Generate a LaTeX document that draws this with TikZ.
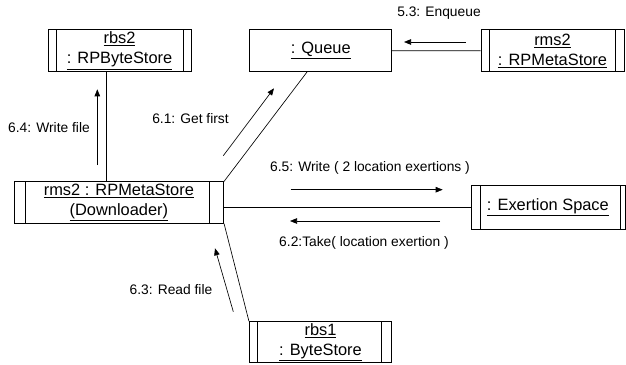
\documentclass[tikz,border=0pt]{standalone}
\usepackage{fontspec}
\setmainfont{Liberation Sans}
\usetikzlibrary{arrows.meta,positioning,calc}

\tikzset{
  link/.style={line width=0.65pt},
  objbox/.style={draw, link, minimum width=142pt, minimum height=42pt, inner sep=0pt,
    align=center, font=\fontsize{16.4}{20.5}\selectfont},
  activebox/.style 2 args={objbox, path picture={
    \draw[link] ([xshift=#1]path picture bounding box.north west) -- ([xshift=#1]path picture bounding box.south west);
    \draw[link] ([xshift=-#2]path picture bounding box.north east) -- ([xshift=-#2]path picture bounding box.south east);}},
  msg/.style={link, ->},
  msglabel/.style={font=\fontsize{13.8}{15}\selectfont, inner sep=0pt}
}

\begin{document}
\begin{tikzpicture}[x=1pt,y=-1pt,>={Triangle[length=7pt,width=5.5pt]}]
    \useasboundingbox (0,0) rectangle (626,364);

    % objects
    \node[activebox={8pt}{8pt}, minimum width=143pt] (rbs2) at (119.5,50.5) {\underline{rbs2}\\\underline{: RPByteStore}};
    \node[objbox] (queue) at (320.7,50.7) {\underline{: Queue}};
    \node[activebox={8pt}{9pt}, minimum width=143pt] (rms2) at (552.5,50.8) {\underline{rms2}\\\underline{: RPMetaStore}};
    \node[activebox={11.7pt}{14.4pt}, minimum width=209.7pt, minimum height=41.6pt] (downloader) at (118.9,202.5) {\underline{rms2 : RPMetaStore}\\\underline{(Downloader)}};
    \node[activebox={9.3pt}{5pt}, minimum width=154pt, minimum height=44pt] (space) at (547.9,207) {\underline{: Exertion Space}};
    \node[activebox={8pt}{10pt}, minimum width=142.4pt, minimum height=41pt] (rbs1) at (320.5,342.2) {\underline{rbs1}\\\underline{: ByteStore}};

    % links
    \draw[link] ([xshift=-12.8pt]rbs2.south) -- ([xshift=-12.8pt]rbs2.south |- downloader.north);
    \draw[link] ([xshift=-13.7pt]queue.south) -- (downloader.north east);
    \draw[link] (queue.east) -- (rms2.west);
    \draw[link] (downloader.east |- space.west) -- (space.west);
    \draw[link] (downloader.south east) -- (rbs1.north west);

    % messages
    \coordinate (enqueueStart) at (465.7,42);
    \coordinate (enqueueEnd) at (404,42);
    \draw[msg] (enqueueStart) -- (enqueueEnd);
    \node[msglabel] (enqueueLabel) at (439,13.3) {5.3: Enqueue};

    \coordinate (writeFileStart) at (97.3,165);
    \coordinate (writeFileEnd) at (97.3,89.3);
    \draw[msg] (writeFileStart) -- (writeFileEnd);
    \node[msglabel] (writeFileLabel) at (49,127.7) {6.4: Write file};

    \coordinate (getFirstStart) at (223.3,155.7);
    \coordinate (getFirstEnd) at (274,88.3);
    \draw[msg] (getFirstStart) -- (getFirstEnd);
    \node[msglabel] (getFirstLabel) at (190.5,119) {6.1: Get first};

    \coordinate (writeStart) at (290.7,189.7);
    \coordinate (writeEnd) at (442.7,189.7);
    \draw[msg] (writeStart) -- (writeEnd);
    \node[msglabel] (writeLabel) at (370,168) {6.5: Write ( 2 location exertions )};

    \coordinate (takeStart) at (440,221);
    \coordinate (takeEnd) at (290,221);
    \draw[msg] (takeStart) -- (takeEnd);
    \node[msglabel] (takeLabel) at (364,243.3) {6.2:Take( location exertion )};

    \coordinate (readFileStart) at (233.3,311.7);
    \coordinate (readFileEnd) at (215,248.3);
    \draw[msg] (readFileStart) -- (readFileEnd);
    \node[msglabel] (readFileLabel) at (171,289.3) {6.3: Read file};

\end{tikzpicture}
\end{document}
